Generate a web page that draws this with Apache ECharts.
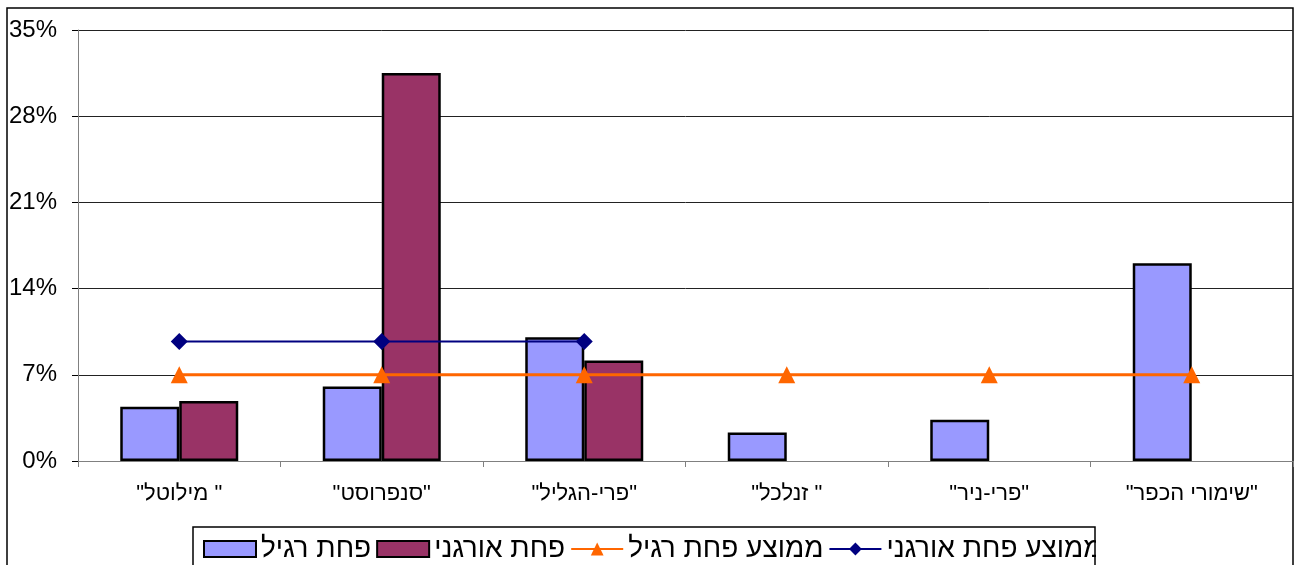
<!DOCTYPE html>
<html>
<head>
<meta charset="utf-8">
<script src="https://cdn.jsdelivr.net/npm/echarts@6/dist/echarts.min.js"></script>
<style>
html,body{margin:0;padding:0;background:#fff;}
#chart{width:1296px;height:565px;}
</style>
</head>
<body>
<div id="chart" dir="rtl"></div>
<script>
const categories = ['" מילוטל"', '"סנפרוסט"', '"פרי-הגליל"', '" זנלכל"', '"פרי-ניר"', '"שימורי הכפר"'];
const regularLoss = [4.4, 6.05, 10.05, 2.32, 3.34, 16.05];
const organicLoss = [4.88, 31.5, 8.17, null, null, null];
const avgRegular = [7.0, 7.0, 7.0, 7.0, 7.0, 7.0];
const avgOrganic = [9.7, 9.7, 9.7, null, null, null];
const seriesNames = ['פחת רגיל', 'פחת אורגני', 'ממוצע פחת רגיל', 'ממוצע פחת אורגני'];

const FONT = '"Liberation Sans", Arial, sans-serif';
const chart = echarts.init(document.getElementById('chart'), null, {renderer: 'canvas'});
chart.setOption({
  animation: false,
  backgroundColor: '#fff',
  grid: {left: 78, right: 3, top: 30, bottom: 104, containLabel: false},
  xAxis: {
    type: 'category',
    data: categories,
    axisLine: {lineStyle: {color: '#808080', width: 1}},
    axisTick: {show: true, length: 6, lineStyle: {color: '#808080'}},
    axisLabel: {color: '#000', fontFamily: FONT, fontSize: 22, margin: 22}
  },
  yAxis: {
    type: 'value',
    min: 0, max: 35, interval: 7,
    axisLine: {show: true, lineStyle: {color: '#808080', width: 1}},
    axisTick: {show: true, length: 6, lineStyle: {color: '#000'}},
    axisLabel: {color: '#000', fontFamily: FONT, fontSize: 24, margin: 21, formatter: '{value}%'},
    splitLine: {show: true, lineStyle: {color: '#222', width: 1}}
  },
  legend: {
    left: 193, top: 527,
    padding: [8, 0, 12, 10],
    itemWidth: 52, itemHeight: 16, itemGap: 5,
    textStyle: {color: '#000', fontFamily: FONT, fontSize: 28},
    data: [
      {name: seriesNames[0], icon: 'rect'},
      {name: seriesNames[1], icon: 'rect'},
      {name: seriesNames[2]},
      {name: seriesNames[3]}
    ]
  },
  graphic: [
    {type: 'rect', silent: true, z: -10,
     shape: {x: 7, y: 8, width: 1286, height: 600},
     style: {fill: 'none', stroke: '#000', lineWidth: 1.5}},
    {type: 'rect', silent: true, z: 100,
     shape: {x: 1096, y: 528, width: 195, height: 40},
     style: {fill: '#fff', stroke: 'none'}},
    {type: 'rect', silent: true, z: 101,
     shape: {x: 193, y: 527, width: 902, height: 60},
     style: {fill: 'none', stroke: '#000', lineWidth: 1.5}}
  ],
  series: [
    {name: seriesNames[0], type: 'bar', data: regularLoss, barWidth: 59, barGap: '0%',
     itemStyle: {color: '#9999FF', borderColor: '#000', borderWidth: 2.5}},
    {name: seriesNames[1], type: 'bar', data: organicLoss, barWidth: 59, barGap: '0%',
     itemStyle: {color: '#993366', borderColor: '#000', borderWidth: 2.5}},
    {name: seriesNames[2], type: 'line', data: avgRegular, symbol: 'triangle', symbolSize: 17,
     lineStyle: {color: '#FF6600', width: 3}, itemStyle: {color: '#FF6600'}},
    {name: seriesNames[3], type: 'line', data: avgOrganic, symbol: 'diamond', symbolSize: 17,
     lineStyle: {color: '#000080', width: 2}, itemStyle: {color: '#000080'}}
  ]
});
</script>
</body>
</html>
